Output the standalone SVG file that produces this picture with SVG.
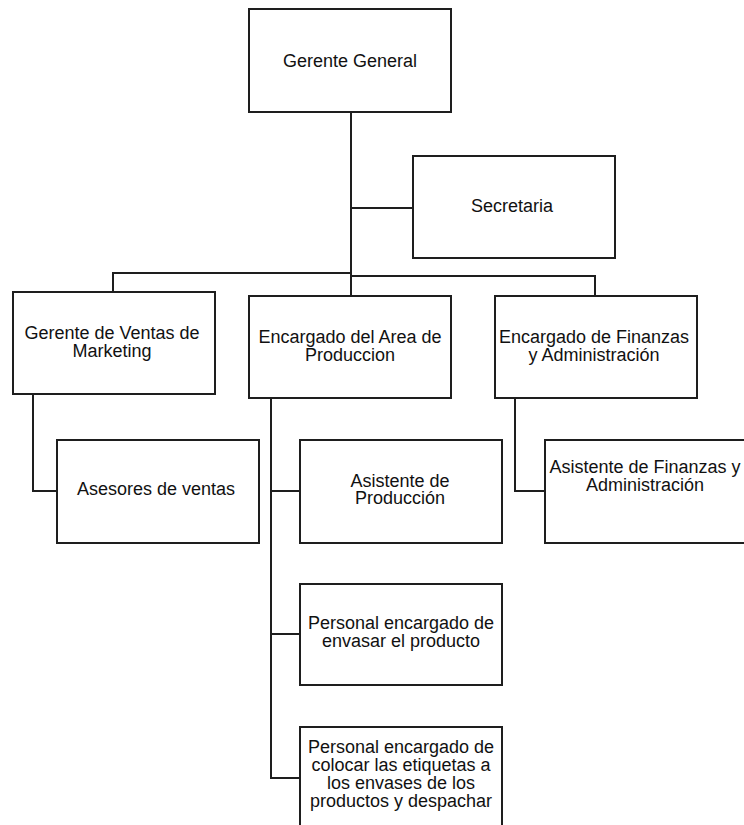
<svg xmlns="http://www.w3.org/2000/svg" width="744" height="825" viewBox="0 0 744 825">
<style>
.box{fill:#fff;stroke:#1e1e1e;stroke-width:2}
.ln{fill:none;stroke:#1e1e1e;stroke-width:2}
text{font-family:"Liberation Sans",Arial,sans-serif;font-size:18px;fill:#111;text-anchor:middle}
</style>
<rect width="744" height="825" fill="#fff"/>
<g id="connectors">
<path class="ln" d="M351 112V296"/>
<path class="ln" d="M351 208H413"/>
<path class="ln" d="M351 273H113V292"/>
<path class="ln" d="M351 276H595V296"/>
<path class="ln" d="M33 394V491H57"/>
<path class="ln" d="M271 398V778H300"/>
<path class="ln" d="M271 491H300"/>
<path class="ln" d="M271 634H300"/>
<path class="ln" d="M515 398V491H545"/>
</g>
<g id="gerente-general"><rect class="box" x="249" y="9" width="202" height="103"/><text x="350" y="67">Gerente General</text></g>
<g id="secretaria"><rect class="box" x="413" y="156" width="202" height="102"/><text x="512" y="212">Secretaria</text></g>
<g id="gerente-ventas"><rect class="box" x="13" y="292" width="202" height="102"/><text x="112" y="339">Gerente de Ventas de</text><text x="112" y="357">Marketing</text></g>
<g id="encargado-produccion"><rect class="box" x="249" y="296" width="202" height="102"/><text x="350" y="343">Encargado del Area de</text><text x="350" y="361">Produccion</text></g>
<g id="encargado-finanzas"><rect class="box" x="495" y="296" width="202" height="102"/><text x="594" y="343">Encargado de Finanzas</text><text x="594" y="361">y Administración</text></g>
<g id="asesores"><rect class="box" x="57" y="440" width="202" height="103"/><text x="156" y="495">Asesores de ventas</text></g>
<g id="asistente-produccion"><rect class="box" x="300" y="440" width="202" height="103"/><text x="400" y="487">Asistente de</text><text x="400" y="504">Producción</text></g>
<g id="asistente-finanzas"><rect class="box" x="545" y="440" width="202" height="103"/><text x="645" y="473">Asistente de Finanzas y</text><text x="645" y="491">Administración</text></g>
<g id="personal-envasar"><rect class="box" x="300" y="584" width="202" height="101"/><text x="401" y="629">Personal encargado de</text><text x="401" y="647">envasar el producto</text></g>
<g id="personal-etiquetas"><rect class="box" x="300" y="727" width="202" height="110"/><text x="401" y="753">Personal encargado de</text><text x="401" y="771">colocar las etiquetas a</text><text x="401" y="789">los envases de los</text><text x="401" y="807">productos y despachar</text></g>
</svg>
